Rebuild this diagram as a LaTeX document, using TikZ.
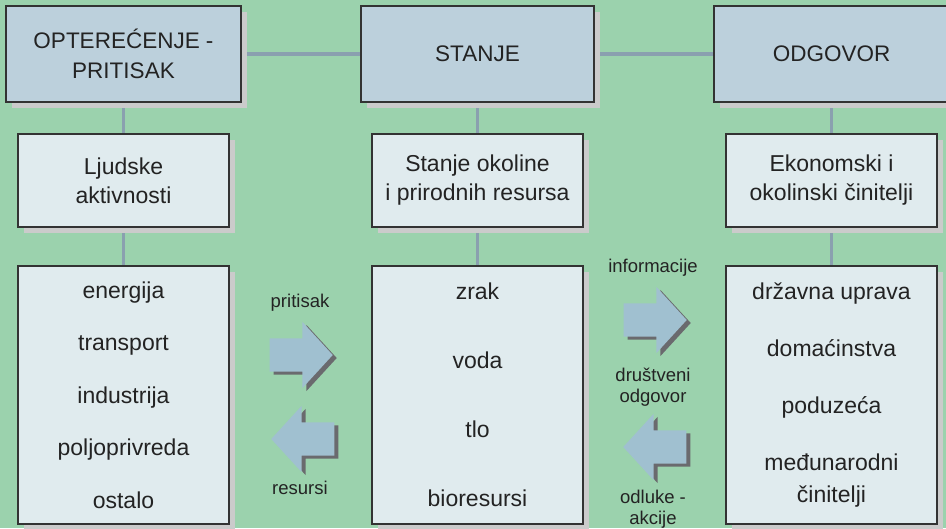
\documentclass[tikz,border=0pt]{standalone}
\usepackage{fontspec}
\setmainfont{Liberation Sans}
\usetikzlibrary{shapes.arrows,backgrounds}

\definecolor{bggreen}{HTML}{9BD2AD}
\definecolor{headfill}{HTML}{BCD0DC}
\definecolor{boxfill}{HTML}{E0EBEE}
\definecolor{boxline}{HTML}{333333}
\definecolor{boxshadow}{HTML}{CBCBCB}
\definecolor{linkline}{HTML}{8AA0AF}
\definecolor{arrowfill}{HTML}{A0C0D0}
\definecolor{arrowshadow}{HTML}{6A6A6E}
\definecolor{ink}{HTML}{232323}

\begin{document}
\begin{tikzpicture}[
  x=1pt, y=-1pt,
  panel/.style={rectangle, draw=boxline, line width=1.2pt, text=ink,
    align=center, inner sep=0pt,
    preaction={fill=boxshadow, transform canvas={shift={(5.5pt,-6pt)}}}},
  headbox/.style={panel, fill=headfill, minimum height=96pt,
    font=\fontsize{22.5}{30}\selectfont},
  topicbox/.style={panel, fill=boxfill, minimum width=211pt, minimum height=93pt,
    font=\fontsize{23}{29}\selectfont},
  listbox/.style={panel, fill=boxfill, minimum width=211pt, minimum height=258pt},
  link/.style={draw=linkline, line width=3.2pt},
  blockarrow/.style={single arrow, fill=arrowfill, inner xsep=0pt, inner ysep=16.5pt,
    minimum height=63pt, single arrow head extend=16.5pt,
    single arrow tip angle=95, anchor=tip,
    preaction={fill=arrowshadow, transform canvas={shift={(4pt,-3pt)}}}},
  leftarrow/.style={blockarrow, shape border rotate=180},
  flowlabel/.style={text=ink, align=center, inner sep=0pt,
    font=\fontsize{18.5}{21}\selectfont}
]
\useasboundingbox (0,0) rectangle (946,528);
\clip (0,0) rectangle (946,528);

% three column headings
\node[headbox, minimum width=235pt] (pressure) at (123.5,54) {OPTEREĆENJE -\\PRITISAK};
\node[headbox, minimum width=233pt] (state)    at (477.5,54) {STANJE};
\node[headbox, minimum width=235pt] (response) at (831.5,54) {ODGOVOR};

% topic boxes
\node[topicbox] (activities) at (123.5,180.5) {Ljudske\\aktivnosti};
\node[topicbox] (environment) at (477.5,180.5) {Stanje okoline\\i prirodnih resursa};
\node[topicbox] (factors) at (831.5,180.5) {Ekonomski i\\okolinski činitelji};

% lists
\node[listbox, font=\fontsize{23}{52.5}\selectfont] (sectors) at (123.5,395)
  {energija\\transport\\industrija\\poljoprivreda\\ostalo};
\node[listbox, font=\fontsize{23}{69}\selectfont] (resources) at (477.5,395)
  {zrak\\voda\\tlo\\bioresursi};
\node[listbox, font=\fontsize{23}{32}\selectfont] (actors) at (831.5,395)
  {državna uprava\\[25pt]domaćinstva\\[25pt]poduzeća\\[25pt]međunarodni\\činitelji};

% background and connecting lines
\begin{scope}[on background layer]
  \fill[bggreen] (0,0) rectangle (946,528);
  \draw[link] (pressure.east) -- (state.west);
  \draw[link] (state.east) -- (response.west);
  \draw[link] (pressure.south) -- (activities.north);
  \draw[link] (activities.south) -- (sectors.north);
  \draw[link] (state.south) -- (environment.north);
  \draw[link] (environment.south) -- (resources.north);
  \draw[link] (response.south) -- (factors.north);
  \draw[link] (factors.south) -- (actors.north);
\end{scope}

% flows between the columns (placed by their tips)
\node[flowlabel] (lblpress) at (300,303) {pritisak};
\node[blockarrow] (press) at (333,355) {};
\node[leftarrow] (supply) at (271,439) {};
\node[flowlabel] (lblsupply) at (300,488) {resursi};

\node[flowlabel] (lblinfo) at (653,268) {informacije};
\node[blockarrow] (info) at (687,320) {};
\node[flowlabel] (lblsocial) at (653,387) {društveni\\odgovor};
\node[leftarrow] (decide) at (623,447) {};
\node[flowlabel] (lbldecide) at (653,509) {odluke -\\akcije};
\end{tikzpicture}
\end{document}
